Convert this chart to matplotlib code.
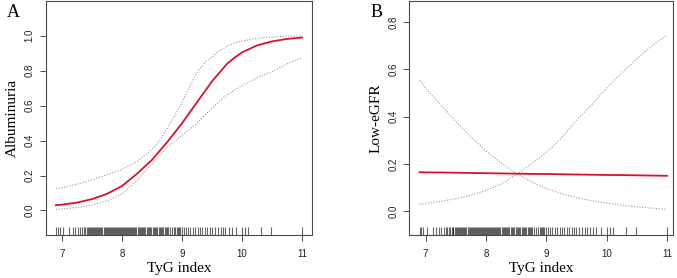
import numpy as np
import matplotlib
matplotlib.use('Agg')
import matplotlib.pyplot as plt
import matplotlib.transforms as mtransforms

# TyG grid
tyg = [6.9, 7.0, 7.25, 7.5, 7.75, 8.0, 8.25, 8.5, 8.625, 8.75, 8.875, 9.0,
       9.125, 9.25, 9.375, 9.5, 9.625, 9.75, 9.875, 10.0, 10.25, 10.5,
       10.75, 11.0]

# panel A: albuminuria
alb_fit = [0.03, 0.033, 0.045, 0.065, 0.095, 0.14, 0.21, 0.29, 0.34, 0.39,
           0.445, 0.50, 0.56, 0.62, 0.68, 0.74, 0.79, 0.84, 0.875, 0.905,
           0.945, 0.968, 0.982, 0.99]
alb_hi = [0.125, 0.13, 0.15, 0.175, 0.205, 0.235, 0.28, 0.35, 0.40, 0.47,
          0.54, 0.62, 0.71, 0.79, 0.845, 0.88, 0.915, 0.94, 0.958, 0.97,
          0.985, 0.993, 0.997, 0.999]
alb_lo = [0.006, 0.009, 0.017, 0.03, 0.055, 0.095, 0.17, 0.27, 0.315, 0.36,
          0.395, 0.43, 0.465, 0.5, 0.545, 0.585, 0.625, 0.66, 0.69, 0.715,
          0.76, 0.795, 0.84, 0.875]

# panel B: low eGFR
egfr_fit = [0.165, 0.1645, 0.164, 0.163, 0.162, 0.161, 0.160, 0.159, 0.1585,
            0.158, 0.1578, 0.1575, 0.157, 0.1565, 0.156, 0.1555, 0.155,
            0.1545, 0.154, 0.1535, 0.153, 0.152, 0.151, 0.15]
egfr_ci1 = [0.03, 0.033, 0.042, 0.053, 0.068, 0.088, 0.115, 0.155, 0.177, 0.2,
            0.224, 0.25, 0.278, 0.31, 0.347, 0.385, 0.418, 0.45, 0.485, 0.52,
            0.585, 0.645, 0.70, 0.745]
egfr_ci2 = [0.555, 0.52, 0.45, 0.38, 0.315, 0.255, 0.205, 0.16, 0.142, 0.125,
            0.11, 0.097, 0.085, 0.075, 0.066, 0.058, 0.051, 0.045, 0.04, 0.035,
            0.026, 0.019, 0.013, 0.008]

# observed TyG values (rug)
rug = [6.90, 6.93, 6.96, 7.02, 7.12, 7.18, 7.22, 7.26, 7.30, 7.33, 7.36,
       7.39, 7.41, 7.43, 7.45, 7.46, 7.48, 7.50, 7.52, 7.53, 7.55, 7.57,
       7.58, 7.60, 7.62, 7.64, 7.65, 7.67, 7.70, 7.72, 7.73, 7.75, 7.77,
       7.78, 7.80, 7.82, 7.84, 7.85, 7.87, 7.89, 7.90, 7.92, 7.94, 7.95,
       7.97, 7.99, 8.00, 8.02, 8.04, 8.05, 8.07, 8.09, 8.10, 8.12, 8.14,
       8.15, 8.17, 8.19, 8.20, 8.22, 8.24, 8.26, 8.28, 8.30, 8.32, 8.34,
       8.35, 8.37, 8.39, 8.41, 8.43, 8.45, 8.47, 8.49, 8.51, 8.53, 8.55,
       8.57, 8.59, 8.61, 8.63, 8.65, 8.67, 8.69, 8.71, 8.73, 8.75, 8.77,
       8.80, 8.83, 8.86, 8.89, 8.91, 8.93, 8.95, 8.97, 9.00, 9.03, 9.06,
       9.10, 9.14, 9.18, 9.22, 9.26, 9.30, 9.34, 9.38, 9.42, 9.46, 9.50,
       9.55, 9.60, 9.64, 9.68, 9.72, 9.78, 9.83, 9.90, 10.00, 10.05,
       10.10, 10.32, 10.48, 11.00]

panels = [
    dict(fit=alb_fit, c1=alb_hi, c2=alb_lo, label='Albuminuria', letter='A',
         ylim=(-0.14, 1.2), yticks=[0.0, 0.2, 0.4, 0.6, 0.8, 1.0],
         xlim=(6.73, 11.17), rect=[0.0675, 0.155, 0.394, 0.842]),
    dict(fit=egfr_fit, c1=egfr_ci1, c2=egfr_ci2, label='Low-eGFR', letter='B',
         ylim=(-0.1, 0.89), yticks=[0.0, 0.2, 0.4, 0.6, 0.8],
         xlim=(6.73, 11.1), rect=[0.6046, 0.155, 0.3895, 0.842]),
]

sans = 'Liberation Sans'
serif = 'Liberation Serif'
frame = '#4a4a4a'

fig = plt.figure(figsize=(6.77, 2.78), dpi=100)

for p in panels:
    ax = fig.add_axes(p['rect'])
    ax.plot(tyg, p['c1'], color='#9a9aae', lw=0.8, ls=(0, (1, 1.5)))
    ax.plot(tyg, p['c2'], color='#9a9aae', lw=0.8, ls=(0, (1, 1.5)))
    ax.plot(tyg, p['fit'], color='#dc1030', lw=1.3)

    trans = mtransforms.blended_transform_factory(ax.transData, ax.transAxes)
    ax.vlines(rug, 0, 0.032, transform=trans, color='black', lw=0.8, alpha=0.6)

    ax.set_xlim(p['xlim'])
    ax.set_ylim(p['ylim'])
    ax.set_xticks([7, 8, 9, 10, 11])
    ax.set_yticks(p['yticks'])
    ax.set_yticklabels(['%.1f' % v for v in p['yticks']], rotation=90, va='center')
    for sp in ax.spines.values():
        sp.set_color(frame)
        sp.set_linewidth(0.8)
    ax.tick_params(colors=frame, length=4, width=0.7, labelsize=7, pad=4)
    ax.tick_params(axis='x', pad=6, labelcolor='#222222')
    ax.tick_params(axis='y', labelcolor='#222222')
    for t in ax.get_xticklabels() + ax.get_yticklabels():
        t.set_fontfamily(sans)
    ax.set_xlabel('TyG index', fontfamily=serif, fontsize=11, labelpad=2)
    ax.set_ylabel(p['label'], fontfamily=serif, fontsize=11, labelpad=4)
    fig.text(p['rect'][0] - 0.058, 0.985, p['letter'], fontfamily=serif,
             fontsize=13, va='top', ha='left')

fig.savefig('out.png', dpi=100)
